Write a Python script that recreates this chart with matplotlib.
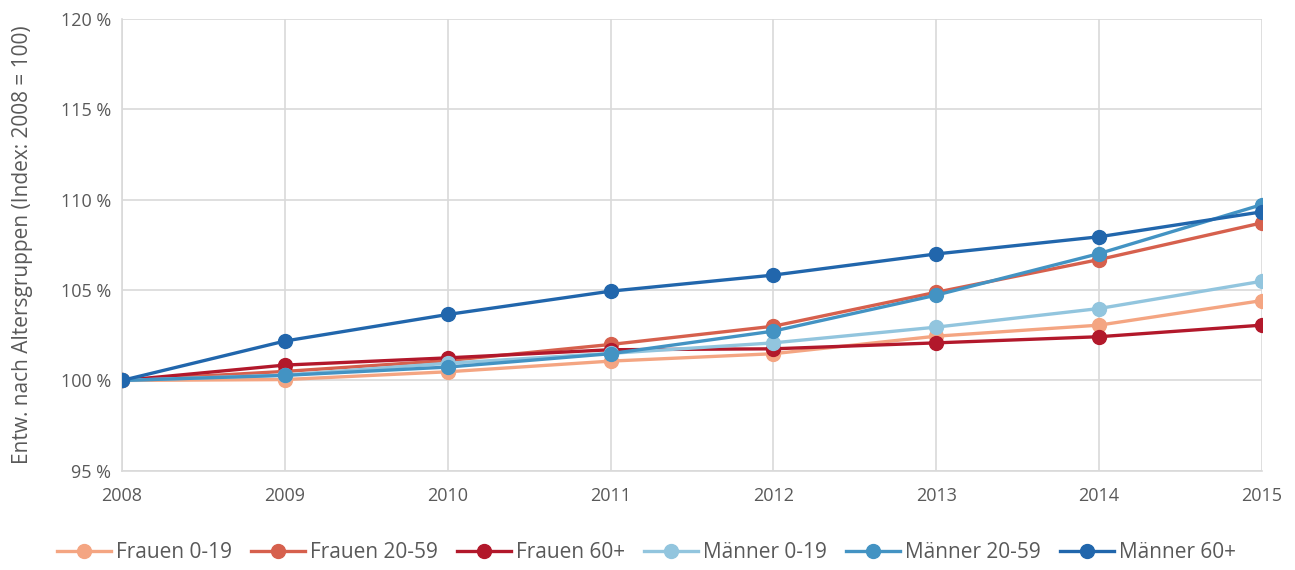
import matplotlib
matplotlib.use("Agg")
import matplotlib.pyplot as plt
from matplotlib.ticker import FuncFormatter

years = [2008, 2009, 2010, 2011, 2012, 2013, 2014, 2015]

frauen_0_19 = [100.0, 100.05, 100.48, 101.07, 101.48, 102.45, 103.06, 104.42]
frauen_20_59 = [100.0, 100.5, 101.1, 101.99, 103.0, 104.88, 106.69, 108.72]
frauen_60 = [100.0, 100.85, 101.25, 101.7, 101.75, 102.08, 102.42, 103.06]
maenner_0_19 = [100.0, 100.3, 100.95, 101.5, 102.08, 102.95, 103.98, 105.49]
maenner_20_59 = [100.0, 100.28, 100.74, 101.48, 102.73, 104.72, 107.02, 109.73]
maenner_60 = [100.0, 102.18, 103.65, 104.94, 105.83, 107.0, 107.95, 109.33]

labels = ["Frauen 0-19", "Frauen 20-59", "Frauen 60+",
          "Männer 0-19", "Männer 20-59", "Männer 60+"]
colors = ["#F4A582", "#D6604D", "#B2182B", "#92C5DE", "#4393C3", "#2166AC"]
series = [frauen_0_19, frauen_20_59, frauen_60,
          maenner_0_19, maenner_20_59, maenner_60]

plt.rcParams['font.family'] = ['Open Sans', 'DejaVu Sans']
grey = "#595959"

fig = plt.figure(figsize=(12.95, 5.7), dpi=100)
ax = fig.add_axes([0.0942, 0.174, 0.8803, 0.7927])

for vals, lab, col in zip(series, labels, colors):
    ax.plot(years, vals, color=col, lw=2.4, marker='o', markersize=10,
            label=lab, zorder=3)

ax.set_xlim(2008, 2015)
ax.set_ylim(95, 120)
ax.set_xticks(years)
ax.set_yticks([95, 100, 105, 110, 115, 120])
ax.yaxis.set_major_formatter(FuncFormatter(lambda v, p: "%d %%" % v))
ax.grid(True, color="#d9d9d9", lw=1.2)
ax.set_axisbelow(True)
for s in ["top", "right"]:
    ax.spines[s].set_visible(False)
ax.spines["left"].set_color("#d9d9d9")
ax.spines["bottom"].set_color("#d9d9d9")
ax.spines["left"].set_linewidth(1.2)
ax.spines["bottom"].set_linewidth(1.2)
ax.tick_params(length=0, labelsize=13, colors=grey, pad=8)
ax.tick_params(axis='x', pad=12)
ax.set_ylabel("Entw. nach Altersgruppen (Index: 2008 = 100)", fontsize=15,
              color=grey, labelpad=20)

ax.legend(loc="center", bbox_to_anchor=(0.46, -0.181), ncol=6,
          frameon=False, fontsize=15, labelcolor=grey, handlelength=2.6,
          columnspacing=0.9, handletextpad=0.25)

fig.savefig("out.png", dpi=100)
